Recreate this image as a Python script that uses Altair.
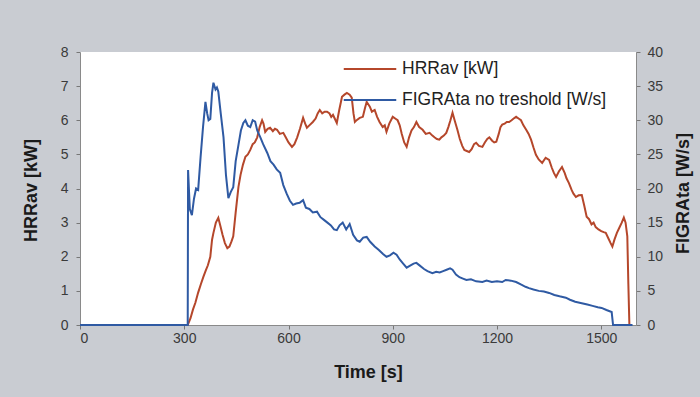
import altair as alt
import pandas as pd

# FIGRAta (no threshold), W/s, right axis
figra_t = [0, 305, 310, 311, 316, 322, 328, 334, 340, 347, 354, 361, 366, 370, 375, 380, 384, 390, 394,
           398, 405, 413, 420, 427, 434, 441, 448, 456, 463, 470, 476, 483, 490, 497, 504, 510, 519, 527,
           539, 548, 557, 566, 576, 585, 595, 604, 613, 622, 632, 642, 650, 660, 670, 682, 692, 702, 712,
           722, 731, 739, 747, 756, 766, 776, 786, 797, 805, 815, 825, 835, 848, 860, 872, 882, 892, 902,
           911, 920, 930, 940, 950, 960, 968, 978, 990, 1000, 1014, 1025, 1035, 1045, 1055, 1065, 1072,
           1082, 1092, 1102, 1112, 1125, 1140, 1158, 1170, 1185, 1200, 1215, 1225, 1240, 1255, 1270, 1282,
           1292, 1305, 1320, 1335, 1350, 1365, 1380, 1398, 1410, 1425, 1444, 1460, 1475, 1490, 1501, 1515,
           1530, 1534, 1590]
figra_v = [0, 0, 0, 22.7, 17.0, 16.1, 18.5, 20.0, 19.8, 24.6, 29.0, 32.7, 31.0, 30.0, 30.2, 34.0, 35.5,
           34.5, 34.8, 34.2, 31.0, 27.5, 22.0, 18.6, 19.5, 20.2, 24.0, 26.4, 28.5, 29.6, 30.0, 29.2, 29.0,
           30.0, 29.8, 28.5, 27.5, 26.5, 25.2, 24.0, 23.5, 22.8, 22.3, 20.5, 19.2, 18.2, 17.6, 17.8, 17.9,
           18.3, 17.2, 17.0, 16.5, 16.6, 15.8, 15.4, 15.0, 14.6, 14.0, 13.9, 14.6, 15.0, 14.0, 14.8, 13.2,
           12.4, 12.2, 12.8, 12.9, 12.2, 11.5, 11.0, 10.4, 10.0, 10.2, 10.6, 10.3, 9.6, 9.0, 8.4, 8.7, 9.0,
           9.1, 8.7, 8.2, 7.9, 7.6, 7.8, 7.7, 7.9, 8.1, 8.3, 8.1, 7.4, 7.0, 6.8, 6.6, 6.7, 6.4, 6.3, 6.5,
           6.3, 6.4, 6.3, 6.6, 6.5, 6.3, 5.9, 5.6, 5.4, 5.2, 5.0, 4.9, 4.7, 4.4, 4.2, 4.0, 3.7, 3.4, 3.2,
           3.0, 2.8, 2.6, 2.5, 2.2, 1.9, 0, 0]

# HRRav, kW, left axis
hrr_t = [0, 310, 318, 325, 332, 340, 348, 355, 362, 368, 375, 380, 384, 391, 398, 404, 410, 417, 424,
         430, 436, 441, 448, 456, 462, 469, 476, 483, 490, 497, 503, 510, 517, 524, 528, 533, 540, 547,
         555, 561, 567, 575, 585, 592, 600, 610, 617, 625, 633, 642, 648, 653, 660, 670, 678, 684, 690,
         697, 704, 711, 718, 723, 728, 733, 739, 746, 754, 761, 768, 776, 782, 787, 791, 797, 805, 814,
         820, 825, 834, 840, 848, 855, 862, 871, 877, 882, 890, 900, 907, 914, 920, 926, 933, 940, 947,
         954, 961, 968, 976, 986, 995, 1006, 1014, 1020, 1027, 1034, 1040, 1047, 1054, 1060, 1066, 1072,
         1078, 1086, 1093, 1100, 1106, 1113, 1120, 1127, 1134, 1140, 1148, 1158, 1165, 1172, 1178, 1186,
         1192, 1198, 1205, 1210, 1215, 1222, 1228, 1235, 1242, 1248, 1255, 1262, 1269, 1276, 1284, 1291,
         1298, 1305, 1312, 1320, 1330, 1340, 1350, 1358, 1364, 1370, 1378, 1387, 1395, 1400, 1407, 1415,
         1420, 1427, 1435, 1444, 1451, 1458, 1465, 1472, 1478, 1484, 1492, 1500, 1507, 1513, 1520, 1527,
         1532, 1538, 1545, 1552, 1559, 1565, 1570, 1575, 1578, 1581]
hrr_v = [0, 0, 0.2, 0.45, 0.65, 0.95, 1.2, 1.41, 1.6, 1.75, 2.0, 2.5, 2.7, 3.0, 3.14, 2.9, 2.65, 2.4,
         2.25, 2.3, 2.45, 2.6, 3.3, 4.05, 4.4, 4.7, 4.93, 5.0, 5.13, 5.3, 5.35, 5.5, 5.8, 6.0, 5.9, 5.66,
         5.75, 5.78, 5.68, 5.75, 5.72, 5.6, 5.63, 5.5, 5.35, 5.22, 5.3, 5.5, 5.75, 6.07, 5.9, 5.78, 5.85,
         5.95, 6.05, 6.2, 6.3, 6.2, 6.25, 6.25, 6.2, 6.1, 6.16, 6.05, 5.92, 6.3, 6.69, 6.75, 6.8, 6.75,
         6.66, 6.2, 5.95, 6.01, 6.07, 6.1, 6.35, 6.54, 6.4, 6.25, 6.3, 6.1, 5.95, 5.8, 5.85, 5.66, 5.9,
         6.1, 6.05, 6.0, 5.85, 5.6, 5.35, 5.22, 5.5, 5.7, 5.8, 5.95, 5.8, 5.72, 5.6, 5.63, 5.55, 5.5,
         5.45, 5.43, 5.5, 5.55, 5.63, 5.8, 6.0, 6.22, 6.0, 5.72, 5.45, 5.25, 5.13, 5.1, 5.07, 5.15, 5.3,
         5.34, 5.25, 5.22, 5.35, 5.45, 5.5, 5.4, 5.35, 5.37, 5.6, 5.8, 5.87, 5.9, 5.95, 5.95, 6.0, 6.05,
         6.1, 6.05, 6.0, 5.85, 5.72, 5.6, 5.43, 5.2, 4.99, 4.85, 4.75, 4.9, 4.84, 4.6, 4.45, 4.34, 4.5,
         4.63, 4.45, 4.3, 4.16, 3.95, 3.85, 3.75, 3.8, 3.81, 3.5, 3.17, 3.1, 2.95, 3.0, 2.87, 2.8, 2.75,
         2.72, 2.7, 2.55, 2.4, 2.3, 2.5, 2.7, 2.85, 3.0, 3.15, 3.0, 2.6, 1.2, 0]

series_names = ["HRRav [kW]", "FIGRAta no treshold [W/s]"]
series_colors = ["#b5472b", "#2f5aa3"]
x_ticks = [0, 300, 600, 900, 1200, 1500]
hrr_ticks = [0, 1, 2, 3, 4, 5, 6, 7, 8]
figra_ticks = [0, 5, 10, 15, 20, 25, 30, 35, 40]

hrr_df = pd.DataFrame({"t": hrr_t, "v": hrr_v, "series": series_names[0]})
figra_df = pd.DataFrame({"t": figra_t, "v": figra_v, "series": series_names[1]})

FONT = "Liberation Sans"
x_enc = alt.X(
    "t:Q",
    scale=alt.Scale(domain=[0, 1600], nice=False),
    axis=alt.Axis(values=x_ticks, format="d", title="Time [s]", titleX=288, titleY=47,
                  titleBaseline="middle", titleAlign="center", labelOverlap=False),
)
color_enc = alt.Color(
    "series:N",
    scale=alt.Scale(domain=series_names, range=series_colors),
    legend=alt.Legend(
        title=None, orient="none", legendX=268, legendY=-5,
        symbolType="M-1.25,0H1.25", symbolSize=1764, symbolStrokeWidth=2,
        labelFontSize=17.5, labelFont=FONT, labelColor="#222222", labelOffset=10,
        labelLimit=400, rowPadding=0, padding=0,
    ),
)

hrr = alt.Chart(hrr_df).mark_line(strokeWidth=2).encode(
    x=x_enc,
    y=alt.Y("v:Q", scale=alt.Scale(domain=[0, 8], nice=False),
            axis=alt.Axis(title="HRRav [kW]", orient="left", values=hrr_ticks,
                          labelOverlap=False, labelPadding=8,
                          titleX=-49, titleY=138, titleAngle=270,
                          titleBaseline="middle", titleAlign="center")),
    color=color_enc,
)

figra = alt.Chart(figra_df).mark_line(strokeWidth=2).encode(
    x=x_enc,
    y=alt.Y("v:Q", scale=alt.Scale(domain=[0, 40], nice=False),
            axis=alt.Axis(title="FIGRAta [W/s]", orient="right", values=figra_ticks,
                          labelOverlap=False, labelPadding=7,
                          titleX=47, titleY=141, titleAngle=270,
                          titleBaseline="middle", titleAlign="center")),
    color=color_enc,
)

chart = (
    alt.layer(hrr, figra)
    .resolve_scale(y="independent")
    .properties(
        width=556, height=273,
        background="#c9ccd2",
        autosize=alt.AutoSizeParams(type="none"),
        padding={"left": 80, "top": 52, "right": 64, "bottom": 72},
    )
    .configure_view(fill="white", stroke=None)
    .configure_axis(
        grid=False,
        labelFont=FONT, labelFontSize=14, labelColor="#3a3a3a",
        titleFont=FONT, titleFontSize=18, titleFontWeight="bold", titleColor="#1a1a1a",
        tickSize=4, tickColor="#777777", domainColor="#8a8a8a",
    )
    .configure_axisX(labelPadding=2)
)

chart.save("out.html", embed_options={"renderer": "svg", "actions": False})
